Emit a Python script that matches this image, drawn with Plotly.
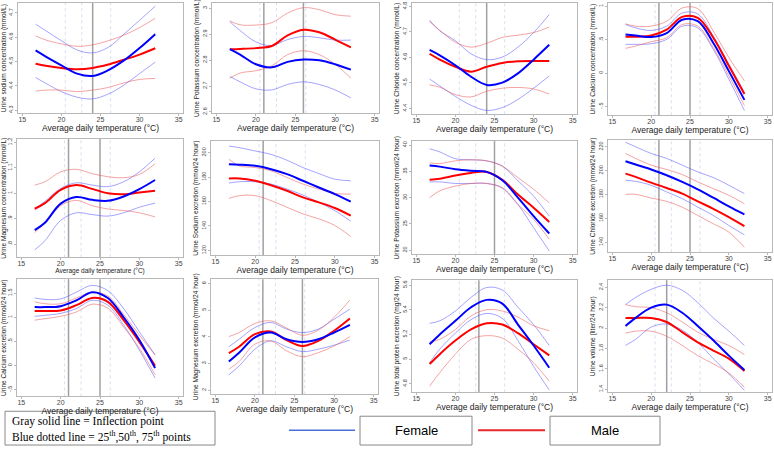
import plotly.graph_objects as go

W, H = 774, 451

# ---------------- data ----------------
temp = [16.7, 18, 20, 22, 24, 26, 28, 30, 32]
pctl = [20.5, 22.6, 26.3]
x_ticks = [15, 20, 25, 30, 35]

# 1 Urine sodium concentration
na_c_f = [4.545, 4.520, 4.484, 4.450, 4.440, 4.464, 4.504, 4.555, 4.612]
na_c_f_hi = [4.653, 4.626, 4.585, 4.547, 4.535, 4.558, 4.612, 4.669, 4.727]
na_c_f_lo = [4.434, 4.410, 4.376, 4.353, 4.346, 4.366, 4.403, 4.450, 4.497]
na_c_m = [4.490, 4.482, 4.473, 4.468, 4.473, 4.487, 4.507, 4.528, 4.554]
na_c_m_hi = [4.605, 4.588, 4.572, 4.562, 4.568, 4.585, 4.608, 4.639, 4.677]
na_c_m_lo = [4.378, 4.382, 4.382, 4.376, 4.382, 4.393, 4.412, 4.426, 4.430]
na_c_infl = [24]
na_c_yt = [4.3, 4.4, 4.5, 4.6, 4.7]
na_c_ytx = ["4.3", "4.4", "4.5", "4.6", "4.7"]

# 2 Urine potassium concentration
k_c_f = [2.842, 2.821, 2.784, 2.772, 2.793, 2.802, 2.799, 2.784, 2.763]
k_c_f_hi = [2.948, 2.914, 2.870, 2.856, 2.879, 2.891, 2.886, 2.877, 2.877]
k_c_f_lo = [2.737, 2.716, 2.689, 2.685, 2.706, 2.716, 2.706, 2.685, 2.654]
k_c_m = [2.842, 2.843, 2.846, 2.854, 2.895, 2.917, 2.907, 2.879, 2.849]
k_c_m_hi = [2.951, 2.936, 2.935, 2.944, 2.981, 3.002, 2.994, 2.975, 2.969]
k_c_m_lo = [2.730, 2.750, 2.759, 2.778, 2.821, 2.836, 2.821, 2.784, 2.730]
k_c_infl = [21, 26]
k_c_yt = [2.6, 2.7, 2.8, 2.9, 3.0]
k_c_ytx = ["2.6", "2.7", "2.8", "2.9", "3"]

# 3 Urine chloride concentration
cl_c_f = [4.629, 4.608, 4.569, 4.524, 4.492, 4.501, 4.537, 4.591, 4.649]
cl_c_f_hi = [4.745, 4.704, 4.665, 4.614, 4.591, 4.601, 4.640, 4.697, 4.768]
cl_c_f_lo = [4.515, 4.488, 4.447, 4.412, 4.392, 4.403, 4.435, 4.479, 4.527]
cl_c_m = [4.614, 4.591, 4.563, 4.544, 4.563, 4.578, 4.585, 4.586, 4.586]
cl_c_m_hi = [4.740, 4.706, 4.659, 4.640, 4.655, 4.678, 4.687, 4.697, 4.719]
cl_c_m_lo = [4.492, 4.483, 4.454, 4.445, 4.467, 4.479, 4.482, 4.476, 4.456]
cl_c_infl = [24]
cl_c_yt = [4.4, 4.5, 4.6, 4.7, 4.8]
cl_c_ytx = ["4.4", "4.5", "4.6", "4.7", "4.8"]

# 4 Urine calcium concentration
ca_c_f = [0.579, 0.564, 0.540, 0.600, 0.800, 0.777, 0.450, 0.030, -0.400]
ca_c_f_hi = [0.728, 0.678, 0.639, 0.703, 0.900, 0.886, 0.554, 0.134, -0.287]
ca_c_f_lo = [0.431, 0.431, 0.440, 0.505, 0.703, 0.678, 0.356, -0.089, -0.560]
ca_c_m = [0.545, 0.545, 0.564, 0.653, 0.842, 0.827, 0.530, 0.109, -0.312]
ca_c_m_hi = [0.738, 0.703, 0.703, 0.777, 0.975, 0.965, 0.629, 0.233, -0.114]
ca_c_m_lo = [0.371, 0.406, 0.470, 0.530, 0.728, 0.703, 0.381, -0.040, -0.485]
ca_c_infl = [21, 25]
ca_c_yt = [-0.5, 0, 0.5, 1]
ca_c_ytx = ["-.5", "0", ".5", "1"]

# 5 Urine magnesium concentration
mg_c_f = [0.855, 0.884, 0.959, 0.985, 0.974, 0.970, 0.987, 1.016, 1.052]
mg_c_f_hi = [0.939, 0.968, 1.019, 1.041, 1.032, 1.026, 1.045, 1.084, 1.138]
mg_c_f_lo = [0.777, 0.813, 0.893, 0.923, 0.916, 0.910, 0.923, 0.945, 0.961]
mg_c_m = [0.939, 0.961, 1.013, 1.032, 1.017, 1.000, 0.996, 1.003, 1.010]
mg_c_m_hi = [1.032, 1.045, 1.084, 1.094, 1.077, 1.065, 1.061, 1.074, 1.116]
mg_c_m_lo = [0.845, 0.884, 0.951, 0.972, 0.951, 0.938, 0.932, 0.923, 0.907]
mg_c_infl = [21, 25]
mg_c_yt = [0.8, 0.9, 1.0, 1.1, 1.2]
mg_c_ytx = [".8", ".9", "1", "1.1", "1.2"]

# 6 Urine sodium excretion
na_e_f = [190.5, 190.2, 189.2, 186.5, 182.4, 177.0, 171.5, 166.1, 159.9]
na_e_f_hi = [205.4, 204.1, 201.4, 198.6, 193.8, 187.8, 182.9, 178.3, 177.0]
na_e_f_lo = [175.1, 176.2, 176.2, 174.3, 170.2, 165.3, 159.3, 152.6, 143.9]
na_e_m = [178.9, 178.9, 177.0, 173.4, 168.8, 163.4, 159.3, 154.7, 148.5]
na_e_m_hi = [194.6, 189.2, 187.8, 185.1, 179.7, 174.3, 170.2, 166.7, 166.1]
na_e_m_lo = [162.6, 164.8, 164.8, 160.7, 155.3, 149.9, 145.8, 140.4, 131.4]
na_e_infl = [21]
na_e_yt = [120, 140, 160, 180, 200]
na_e_ytx = ["120", "140", "160", "180", "200"]

# 7 Urine potassium excretion
k_e_f = [36.1, 35.9, 35.4, 35.1, 34.9, 33.3, 30.0, 26.5, 23.2]
k_e_f_hi = [39.3, 38.7, 37.4, 37.2, 37.0, 36.0, 33.2, 30.3, 26.5]
k_e_f_lo = [33.0, 33.0, 32.7, 32.7, 32.7, 31.9, 28.7, 24.3, 19.9]
k_e_m = [33.4, 33.6, 34.2, 34.7, 34.9, 33.4, 30.6, 28.1, 25.4]
k_e_m_hi = [36.6, 36.5, 37.0, 37.2, 37.0, 36.0, 33.8, 31.6, 29.0]
k_e_m_lo = [30.0, 31.3, 32.2, 32.7, 32.7, 31.8, 28.7, 25.9, 22.1]
k_e_infl = [25]
k_e_yt = [20, 25, 30, 35, 40]
k_e_ytx = ["20", "25", "30", "35", "40"]

# 8 Urine chloride excretion
cl_e_f = [207.9, 205.1, 200.9, 196.1, 190.5, 184.3, 177.3, 170.0, 163.3]
cl_e_f_hi = [223.7, 220.0, 214.4, 210.2, 204.6, 198.9, 194.2, 187.7, 180.7]
cl_e_f_lo = [191.9, 191.0, 187.7, 182.1, 176.5, 169.4, 162.4, 154.0, 146.1]
cl_e_m = [197.5, 194.7, 189.9, 185.4, 180.7, 174.2, 168.0, 161.0, 153.4]
cl_e_m_hi = [214.4, 210.2, 204.6, 200.9, 196.7, 190.5, 184.9, 179.3, 172.2]
cl_e_m_lo = [180.1, 180.1, 177.0, 174.2, 169.4, 162.4, 155.4, 148.4, 135.7]
cl_e_infl = [21, 25]
cl_e_yt = [140, 160, 180, 200, 220]
cl_e_ytx = ["140", "160", "180", "200", "220"]

# 9 Urine calcium excretion
ca_e_f = [1.21, 1.21, 1.23, 1.35, 1.52, 1.40, 1.00, 0.53, -0.055]
ca_e_f_hi = [1.40, 1.37, 1.38, 1.52, 1.66, 1.55, 1.18, 0.70, 0.22]
ca_e_f_lo = [1.02, 1.04, 1.08, 1.18, 1.35, 1.25, 0.84, 0.32, -0.26]
ca_e_m = [1.13, 1.13, 1.14, 1.25, 1.40, 1.32, 0.94, 0.49, -0.007]
ca_e_m_hi = [1.32, 1.28, 1.28, 1.40, 1.52, 1.44, 1.06, 0.63, 0.22]
ca_e_m_lo = [0.94, 0.97, 1.02, 1.11, 1.27, 1.19, 0.80, 0.36, -0.19]
ca_e_infl = [21, 25]
ca_e_yt = [-0.5, 0, 0.5, 1, 1.5]
ca_e_ytx = ["-.5", "0", ".5", "1", "1.5"]

# 10 Urine magnesium excretion
mg_e_f = [3.08, 3.41, 3.98, 4.16, 3.91, 3.81, 3.91, 4.16, 4.45]
mg_e_f_hi = [3.63, 3.91, 4.35, 4.54, 4.29, 4.16, 4.29, 4.66, 5.04]
mg_e_f_lo = [2.58, 2.91, 3.54, 3.85, 3.63, 3.45, 3.54, 3.69, 3.88]
mg_e_m = [3.39, 3.63, 4.10, 4.20, 3.88, 3.66, 3.85, 4.23, 4.69]
mg_e_m_hi = [4.01, 4.16, 4.50, 4.60, 4.33, 4.06, 4.25, 4.73, 5.38]
mg_e_m_lo = [2.79, 3.08, 3.73, 3.85, 3.48, 3.26, 3.41, 3.66, 4.01]
mg_e_infl = [21, 26]
mg_e_yt = [2, 3, 4, 5, 6]
mg_e_ytx = ["2", "3", "4", "5", "6"]

# 11 Urine total protein excretion
pr_e_f = [5.12, 5.20, 5.31, 5.42, 5.48, 5.45, 5.28, 5.11, 4.93]
pr_e_f_hi = [5.29, 5.31, 5.39, 5.50, 5.58, 5.56, 5.42, 5.28, 5.11]
pr_e_f_lo = [4.97, 5.08, 5.21, 5.32, 5.37, 5.33, 5.15, 4.94, 4.75]
pr_e_m = [4.96, 5.04, 5.15, 5.24, 5.29, 5.28, 5.21, 5.12, 5.03]
pr_e_m_hi = [5.14, 5.16, 5.24, 5.35, 5.40, 5.39, 5.34, 5.27, 5.23]
pr_e_m_lo = [4.78, 4.89, 5.04, 5.16, 5.19, 5.17, 5.08, 4.97, 4.82]
pr_e_infl = [23]
pr_e_yt = [4.8, 5.0, 5.2, 5.4, 5.6]
pr_e_ytx = ["4.8", "5", "5.2", "5.4", "5.6"]

# 12 Urine volume
vol_f = [2.02, 2.10, 2.20, 2.23, 2.15, 2.02, 1.88, 1.73, 1.59]
vol_f_hi = [2.23, 2.30, 2.38, 2.42, 2.37, 2.25, 2.10, 1.97, 1.83]
vol_f_lo = [1.83, 1.89, 2.01, 2.04, 1.98, 1.86, 1.70, 1.55, 1.39]
vol_m = [2.10, 2.10, 2.10, 2.06, 1.96, 1.86, 1.78, 1.70, 1.58]
vol_m_hi = [2.23, 2.21, 2.20, 2.15, 2.06, 1.96, 1.89, 1.83, 1.74]
vol_m_lo = [1.95, 1.97, 1.97, 1.92, 1.83, 1.73, 1.65, 1.56, 1.42]
vol_infl = [22]
vol_yt = [1.4, 1.6, 1.8, 2.0, 2.2, 2.4]
vol_ytx = ["1.4", "1.6", "1.8", "2", "2.2", "2.4"]

panels = [
    ("Urine sodium concentration (mmol/L)", na_c_f, na_c_f_lo, na_c_f_hi, na_c_m, na_c_m_lo, na_c_m_hi, na_c_infl, na_c_yt, na_c_ytx, [4.287, 4.74]),
    ("Urine Potassium concentration (mmol/L)", k_c_f, k_c_f_lo, k_c_f_hi, k_c_m, k_c_m_lo, k_c_m_hi, k_c_infl, k_c_yt, k_c_ytx, [2.595, 3.02]),
    ("Urine Chloride concentration (mmol/L)", cl_c_f, cl_c_f_lo, cl_c_f_hi, cl_c_m, cl_c_m_lo, cl_c_m_hi, cl_c_infl, cl_c_yt, cl_c_ytx, [4.377, 4.813]),
    ("Urine Calcium concentration (mmol/L)", ca_c_f, ca_c_f_lo, ca_c_f_hi, ca_c_m, ca_c_m_lo, ca_c_m_hi, ca_c_infl, ca_c_yt, ca_c_ytx, [-0.63, 1.05]),
    ("Urine Magnesium concentration (mmol/L)", mg_c_f, mg_c_f_lo, mg_c_f_hi, mg_c_m, mg_c_m_lo, mg_c_m_hi, mg_c_infl, mg_c_yt, mg_c_ytx, [0.748, 1.213]),
    ("Urine Sodium excretion (mmol/24 hour)", na_e_f, na_e_f_lo, na_e_f_hi, na_e_m, na_e_m_lo, na_e_m_hi, na_e_infl, na_e_yt, na_e_ytx, [116, 209.5]),
    ("Urine Potassium excretion (mmol/24 hour)", k_e_f, k_e_f_lo, k_e_f_hi, k_e_m, k_e_m_lo, k_e_m_hi, k_e_infl, k_e_yt, k_e_ytx, [19.24, 40.76]),
    ("Urine Chloride excretion (mmol/24 hour)", cl_e_f, cl_e_f_lo, cl_e_f_hi, cl_e_m, cl_e_m_lo, cl_e_m_hi, cl_e_infl, cl_e_yt, cl_e_ytx, [131.5, 225.6]),
    ("Urine Calcium excretion (mmol/24 hour)", ca_e_f, ca_e_f_lo, ca_e_f_hi, ca_e_m, ca_e_m_lo, ca_e_m_hi, ca_e_infl, ca_e_yt, ca_e_ytx, [-0.64, 1.79]),
    ("Urine Magnesium excretion (mmol/24 hour)", mg_e_f, mg_e_f_lo, mg_e_f_hi, mg_e_m, mg_e_m_lo, mg_e_m_hi, mg_e_infl, mg_e_yt, mg_e_ytx, [1.85, 6.16]),
    ("Urine total protein excretion (mg/24 hour)", pr_e_f, pr_e_f_lo, pr_e_f_hi, pr_e_m, pr_e_m_lo, pr_e_m_hi, pr_e_infl, pr_e_yt, pr_e_ytx, [4.73, 5.64]),
    ("Urine volume (liter/24 hour)", vol_f, vol_f_lo, vol_f_hi, vol_m, vol_m_lo, vol_m_hi, vol_infl, vol_yt, vol_ytx, [1.37, 2.47]),
]

# ---------------- layout (pixel boxes of plot areas) ----------------
boxes = [
    (18, 183, 2, 113), (212, 379, 2, 113), (412, 577, 2, 114), (608, 772, 2, 115),
    (17, 183, 139, 258), (211, 379, 141, 256), (412, 577, 141, 255), (608, 772, 140, 253),
    (17, 183, 280, 398), (211, 378, 280, 396), (412, 577, 281, 394), (608, 772, 281, 394),
]
xtitle_sizes = [8.5, 8.5, 8.5, 8.5, 6.5, 8.5, 8.5, 8.5, 8.5, 8.5, 8.5, 8.5]

FONT = "Liberation Sans, Arial, sans-serif"
BLUE = "#0000ff"
RED = "#ff0000"
BLUE_CI = "rgba(90,90,255,0.55)"
RED_CI = "rgba(235,90,90,0.55)"

fig = go.Figure()
shapes = []
layout = {}

for i, (ytitle, f, flo, fhi, m, mlo, mhi, infl, yt, ytx, yr) in enumerate(panels):
    n = "" if i == 0 else str(i + 1)
    xa, ya = "x" + n, "y" + n
    for vals, col, w in [(fhi, BLUE_CI, 1), (flo, BLUE_CI, 1), (mhi, RED_CI, 1), (mlo, RED_CI, 1),
                         (m, RED, 2), (f, BLUE, 2)]:
        fig.add_trace(go.Scatter(x=temp, y=vals, mode="lines", xaxis=xa, yaxis=ya,
                                 line=dict(color=col, width=w, shape="spline", smoothing=1.0),
                                 showlegend=False, hoverinfo="skip"))
    for p in pctl:
        shapes.append(dict(type="line", xref=xa, yref=ya + " domain", x0=p, x1=p, y0=0, y1=1,
                           line=dict(color="rgba(185,195,230,0.55)", width=1, dash="dot"), layer="below"))
    for p in infl:
        shapes.append(dict(type="line", xref=xa, yref=ya + " domain", x0=p, x1=p, y0=0, y1=1,
                           line=dict(color="#a0a0a0", width=1.5), layer="below"))
    x0, x1, y0, y1 = boxes[i]
    layout["xaxis" + n] = dict(
        domain=[x0 / W, x1 / W], anchor=ya, range=[14.45, 35.55],
        tickvals=x_ticks, ticktext=[str(t) for t in x_ticks],
        showline=True, mirror=True, linecolor="#b8b8b8", linewidth=1,
        ticks="outside", ticklen=2, tickcolor="#b8b8b8", ticklabelstandoff=-3,
        tickfont=dict(size=7, color="#444", family=FONT),
        title=dict(text="Average daily temperature (°C)", standoff=0,
                   font=dict(size=xtitle_sizes[i], color="#222", family=FONT)),
        showgrid=False, zeroline=False, fixedrange=True,
    )
    layout["yaxis" + n] = dict(
        domain=[1 - y1 / H, 1 - y0 / H], anchor=xa, range=yr,
        tickvals=yt, ticktext=ytx, tickangle=-90,
        showline=True, mirror=True, linecolor="#b8b8b8", linewidth=1,
        ticks="outside", ticklen=2, tickcolor="#b8b8b8",
        tickfont=dict(size=5.5, color="#444", family=FONT),
        title=dict(text=ytitle, standoff=1, font=dict(size=6.6, color="#222", family=FONT)),
        showgrid=False, zeroline=False, fixedrange=True,
    )

# ---------------- bottom legend ----------------
def px(x):
    return x / W

def py(y):
    return 1 - y / H

shapes += [
    dict(type="rect", xref="paper", yref="paper", x0=px(5), x1=px(215), y0=py(447), y1=py(413),
         line=dict(color="#888", width=1), fillcolor="white"),
    dict(type="line", xref="paper", yref="paper", x0=px(289), x1=px(355), y0=py(432), y1=py(432),
         line=dict(color="#4a6fd6", width=1.5)),
    dict(type="rect", xref="paper", yref="paper", x0=px(360), x1=px(472), y0=py(447), y1=py(418),
         line=dict(color="#888", width=1), fillcolor="white"),
    dict(type="line", xref="paper", yref="paper", x0=px(478), x1=px(545), y0=py(432), y1=py(432),
         line=dict(color="#e8292b", width=2)),
    dict(type="rect", xref="paper", yref="paper", x0=px(550), x1=px(660), y0=py(447), y1=py(418),
         line=dict(color="#888", width=1), fillcolor="white"),
]

annotations = [
    dict(text="Gray solid line = Inflection point", xref="paper", yref="paper",
         x=px(10), y=py(423), xanchor="left", yanchor="middle", showarrow=False,
         font=dict(family="Liberation Serif, Times New Roman, serif", size=11.5, color="black")),
    dict(text="Blue dotted line = 25<sup>th</sup>,50<sup>th</sup>, 75<sup>th</sup> points", xref="paper", yref="paper",
         x=px(10), y=py(438), xanchor="left", yanchor="middle", showarrow=False,
         font=dict(family="Liberation Serif, Times New Roman, serif", size=11.5, color="black")),
    dict(text="Female", xref="paper", yref="paper", x=px(416), y=py(432),
         xanchor="center", yanchor="middle", showarrow=False,
         font=dict(family=FONT, size=13, color="black")),
    dict(text="Male", xref="paper", yref="paper", x=px(605), y=py(432),
         xanchor="center", yanchor="middle", showarrow=False,
         font=dict(family=FONT, size=13, color="black")),
]

fig.update_layout(
    width=W, height=H, margin=dict(l=0, r=0, t=0, b=0),
    paper_bgcolor="white", plot_bgcolor="white",
    showlegend=False, shapes=shapes, annotations=annotations,
    font=dict(family=FONT),
    **layout,
)

fig.write_html("out.html", config={"displayModeBar": False},
               post_script="document.body.style.margin='0px';document.body.style.overflow='hidden';")
